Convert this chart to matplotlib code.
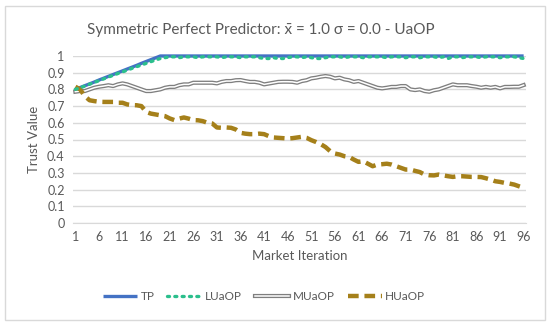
import matplotlib
matplotlib.use("Agg")
import matplotlib.pyplot as plt
import matplotlib.patheffects as pe
from matplotlib.patches import Rectangle

plt.rcParams['font.family'] = ['Lato', 'DejaVu Sans']

iterations = list(range(1, 97))

tp = [0.800, 0.811, 0.822, 0.833, 0.844, 0.856, 0.867, 0.878, 0.889, 0.900,
      0.911, 0.922, 0.933, 0.944, 0.956, 0.967, 0.978, 0.989, 1.000, 1.000,
      1.000, 1.000, 1.000, 1.000, 1.000, 1.000, 1.000, 1.000, 1.000, 1.000,
      1.000, 1.000, 1.000, 1.000, 1.000, 1.000, 1.000, 1.000, 1.000, 1.000,
      1.000, 1.000, 1.000, 1.000, 1.000, 1.000, 1.000, 1.000, 1.000, 1.000,
      1.000, 1.000, 1.000, 1.000, 1.000, 1.000, 1.000, 1.000, 1.000, 1.000,
      1.000, 1.000, 1.000, 1.000, 1.000, 1.000, 1.000, 1.000, 1.000, 1.000,
      1.000, 1.000, 1.000, 1.000, 1.000, 1.000, 1.000, 1.000, 1.000, 1.000,
      1.000, 1.000, 1.000, 1.000, 1.000, 1.000, 1.000, 1.000, 1.000, 1.000,
      1.000, 1.000, 1.000, 1.000, 1.000, 1.000]

luaop = [0.800, 0.810, 0.820, 0.831, 0.842, 0.852, 0.863, 0.874, 0.884, 0.895,
         0.905, 0.915, 0.926, 0.936, 0.946, 0.956, 0.966, 0.976, 0.985, 0.990,
         0.995, 0.995, 0.990, 0.995, 0.995, 0.995, 0.990, 0.995, 0.995, 0.995,
         0.995, 0.990, 0.995, 0.995, 0.995, 0.990, 0.995, 0.995, 0.995, 0.990,
         0.985, 0.985, 0.990, 0.985, 0.985, 0.990, 0.995, 0.995, 0.990, 0.995,
         0.990, 0.985, 0.985, 0.990, 0.995, 0.995, 0.995, 0.990, 0.995, 0.995,
         0.995, 0.990, 0.995, 0.995, 0.995, 0.995, 0.990, 0.995, 0.995, 0.995,
         0.990, 0.995, 0.995, 0.990, 0.995, 0.995, 0.995, 0.990, 0.995, 0.985,
         0.995, 0.995, 0.990, 0.995, 0.995, 0.995, 0.990, 0.995, 0.995, 0.995,
         0.990, 0.995, 0.995, 0.995, 0.990, 0.985]

muaop = [0.786, 0.790, 0.790, 0.800, 0.810, 0.816, 0.820, 0.825, 0.820, 0.830,
         0.836, 0.830, 0.820, 0.810, 0.800, 0.790, 0.790, 0.795, 0.800, 0.810,
         0.815, 0.815, 0.825, 0.830, 0.830, 0.840, 0.840, 0.840, 0.840, 0.840,
         0.836, 0.845, 0.850, 0.850, 0.855, 0.856, 0.850, 0.845, 0.845, 0.840,
         0.830, 0.835, 0.840, 0.845, 0.846, 0.846, 0.845, 0.840, 0.850, 0.855,
         0.866, 0.870, 0.876, 0.880, 0.876, 0.866, 0.870, 0.860, 0.855, 0.845,
         0.850, 0.840, 0.830, 0.820, 0.810, 0.806, 0.810, 0.815, 0.815, 0.820,
         0.820, 0.800, 0.796, 0.800, 0.790, 0.786, 0.795, 0.800, 0.810, 0.820,
         0.830, 0.825, 0.825, 0.825, 0.820, 0.816, 0.810, 0.815, 0.810, 0.815,
         0.806, 0.815, 0.815, 0.816, 0.816, 0.826]

huaop = [0.816, 0.800, 0.760, 0.735, 0.730, 0.726, 0.725, 0.725, 0.725, 0.720,
         0.720, 0.710, 0.706, 0.705, 0.700, 0.665, 0.655, 0.650, 0.645, 0.640,
         0.626, 0.616, 0.625, 0.632, 0.625, 0.616, 0.615, 0.610, 0.600, 0.596,
         0.572, 0.570, 0.572, 0.570, 0.560, 0.540, 0.535, 0.532, 0.532, 0.535,
         0.532, 0.520, 0.512, 0.510, 0.508, 0.506, 0.508, 0.512, 0.516, 0.510,
         0.496, 0.485, 0.472, 0.455, 0.430, 0.416, 0.410, 0.400, 0.396, 0.380,
         0.366, 0.370, 0.355, 0.340, 0.350, 0.352, 0.355, 0.350, 0.340, 0.330,
         0.320, 0.320, 0.312, 0.305, 0.290, 0.286, 0.285, 0.290, 0.285, 0.280,
         0.276, 0.280, 0.280, 0.278, 0.276, 0.276, 0.275, 0.268, 0.260, 0.250,
         0.246, 0.240, 0.236, 0.230, 0.220, 0.210]

xticks = list(range(1, 97, 5))
yticks = [0, 0.1, 0.2, 0.3, 0.4, 0.5, 0.6, 0.7, 0.8, 0.9, 1]
ytick_labels = ['0', '0.1', '0.2', '0.3', '0.4', '0.5', '0.6', '0.7', '0.8', '0.9', '1']

txt = '#595959'

fig = plt.figure(figsize=(5.5, 3.27), dpi=100)
fig.patches.append(Rectangle((5 / 550, 7 / 327), 540 / 550, 314 / 327,
                             transform=fig.transFigure, fill=False,
                             edgecolor='#d9d9d9', linewidth=1))
ax = fig.add_axes([73 / 550, (327 - 223) / 327, 453 / 550, 167 / 327])

ax.plot(iterations, tp, color='#4472C4', lw=2.4, label='TP', zorder=3,
        solid_capstyle='butt')
ax.plot(iterations, luaop, color='#2BBF8C', lw=2.4, ls=(0, (0.6, 1.6)),
        dash_capstyle='round', label='LUaOP', zorder=4)
ax.plot(iterations, muaop, color='white', lw=1.1, label='MUaOP', zorder=3,
        path_effects=[pe.Stroke(linewidth=3.0, foreground='#7f7f7f'), pe.Normal()])
ax.plot(iterations, huaop, color='#A5801A', lw=3.2, ls=(0, (2.4, 1.3)),
        label='HUaOP', zorder=3)

ax.set_xlim(0.5, 96.5)
ax.set_ylim(0, 1)
ax.set_xticks(xticks)
ax.set_yticks(yticks)
ax.set_yticklabels(ytick_labels)
ax.grid(axis='y', color='#d9d9d9', lw=1)
ax.set_axisbelow(True)
for s in ['top', 'right', 'left']:
    ax.spines[s].set_visible(False)
ax.spines['bottom'].set_color('#d9d9d9')
ax.tick_params(length=0, labelsize=9, colors=txt, pad=6)
for l in ax.get_lines():
    l.set_clip_on(False)

ax.set_xlabel('Market Iteration', fontsize=9.5, color=txt, labelpad=5)
ax.set_ylabel('Trust Value', fontsize=9.5, color=txt, labelpad=5)
fig.text(0.475, 1 - 30 / 327, 'Symmetric Perfect Predictor: x\u0304 = 1.0 \u03c3 = 0.0 - UaOP',
         ha='center', va='center', fontsize=11, color=txt)

fig.legend(loc='center', bbox_to_anchor=(0.48, 1 - 297 / 327), ncol=4,
           frameon=False, fontsize=8.5, handlelength=2.9, handletextpad=0.3,
           columnspacing=1.1, labelcolor=txt)

fig.savefig('out.png', dpi=100)
